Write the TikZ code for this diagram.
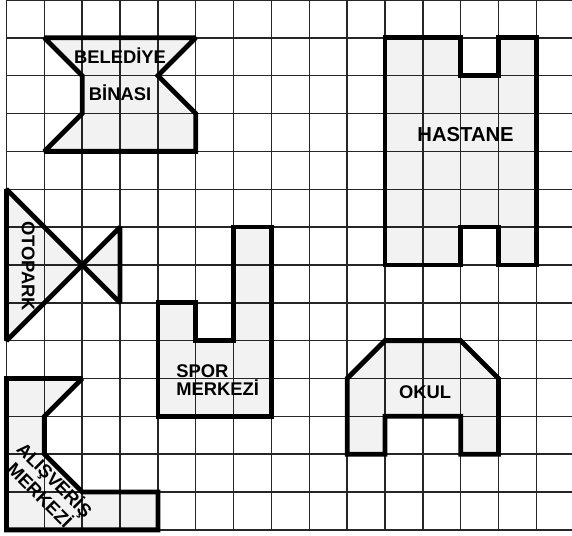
\documentclass[tikz,border=0pt]{standalone}
\usepackage{fontspec}
\setmainfont{Liberation Sans}
\usepackage{tikz}

\begin{document}
\begin{tikzpicture}[
    gridline/.style={line width=1.1pt, black!85},
    building/.style={fill=black, fill opacity=0.051, draw=black, line width=3.6pt, miter limit=2},
    etiket/.style={font=\bfseries\fontsize{13.8}{12.9}\selectfont, inner sep=0pt}
  ]
  \useasboundingbox (-0.172,-14.161) rectangle (14.941,0);
  % Draw the grid
  \draw[gridline] (0,-14) grid (14.941,0);
  % belediye binasi
  \filldraw[building] (1,-1) -- (5,-1) -- (4,-2) -- (5,-3) -- (5,-4) -- (1,-4) -- (2,-3) -- (2,-2) -- cycle;
  % hastane
  \filldraw[building] (10,-1) -- (12,-1) -- (12,-2) -- (13,-2) -- (13,-1) -- (14,-1) -- (14,-7)
    -- (13,-7) -- (13,-6) -- (12,-6) -- (12,-7) -- (10,-7) -- cycle;
  % otopark
  \filldraw[building] (0,-5) -- (3,-8) -- (3,-6) -- (0,-9) -- cycle;
  % spor merkezi
  \filldraw[building] (4,-8) -- (5,-8) -- (5,-9) -- (6,-9) -- (6,-6) -- (7,-6) -- (7,-11) -- (4,-11) -- cycle;
  % alisveris merkezi
  \filldraw[building] (0,-10) -- (2,-10) -- (1,-11) -- (1,-12) -- (2,-13) -- (4,-13) -- (4,-14) -- (0,-14) -- cycle;
  % okul
  \filldraw[building] (10,-9) -- (12,-9) -- (13,-10) -- (13,-12) -- (12,-12) -- (12,-11) -- (10,-11)
    -- (10,-12) -- (9,-12) -- (9,-10) -- cycle;
  % names
  \node[etiket, anchor=base] (belediye) at (3,-1.68) {BELEDİYE};
  \node[etiket, anchor=base] (binasi) at (3,-2.66) {BİNASI};
  \node[etiket, anchor=base, font=\bfseries\fontsize{15.2}{16}\selectfont] (hastane) at (12.13,-3.74) {HASTANE};
  \node[etiket, rotate=-90] (otopark) at (0.57,-7.03) {OTOPARK};
  \node[etiket, anchor=north west, align=left] (spor) at (4.48,-9.64) {SPOR\\MERKEZİ};
  \node[etiket, anchor=base] (okul) at (11.06,-10.52) {OKUL};
  \node[etiket, rotate=-45, align=center] (alisveris) at (1.1,-12.86) {ALIŞVERİŞ\\MERKEZİ};
\end{tikzpicture}
\end{document}
